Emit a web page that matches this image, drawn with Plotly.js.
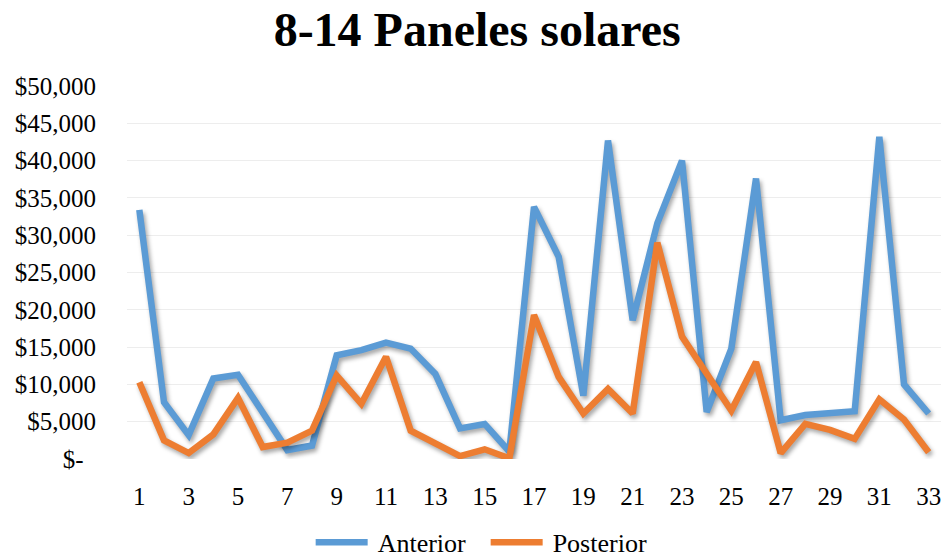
<!DOCTYPE html>
<html>
<head>
<meta charset="utf-8">
<script src="https://cdn.plot.ly/plotly-3.0.1.min.js"></script>
<style>
  html, body { margin: 0; padding: 0; background: #fff; }
  #chart { width: 943px; height: 559px; }
  .scatterlayer .trace path.js-line { filter: drop-shadow(2px 3px 2px rgba(0,0,0,0.35)); }
</style>
</head>
<body>
<div id="chart"></div>
<script>
const periods = [1,2,3,4,5,6,7,8,9,10,11,12,13,14,15,16,17,18,19,20,21,22,23,24,25,26,27,28,29,30,31,32,33];
const anterior = [33400, 7600, 3200, 10800, 11300, 6100, 1200, 1800, 13900, 14600, 15600, 14800, 11400, 4100, 4700, 1000, 33800, 27100, 8500, 42700, 18600, 31600, 40000, 6300, 14800, 37600, 5200, 5900, 6200, 6400, 43200, 10000, 6100];
const posterior = [10300, 2500, 800, 3300, 8200, 1600, 2200, 3800, 11200, 7400, 13700, 3800, 2100, 400, 1300, 100, 19300, 11000, 6100, 9400, 6100, 29000, 16400, 11400, 6500, 13000, 800, 4700, 3900, 2700, 8000, 5300, 900];
const seriesNames = ["Anterior", "Posterior"];
const yTickVals = [0, 5000, 10000, 15000, 20000, 25000, 30000, 35000, 40000, 45000, 50000];
const yTickText = ["$-\u00a0\u00a0", "$5,000", "$10,000", "$15,000", "$20,000", "$25,000", "$30,000", "$35,000", "$40,000", "$45,000", "$50,000"];
const xTickVals = [1,3,5,7,9,11,13,15,17,19,21,23,25,27,29,31,33];
const titleText = "8-14 Paneles solares";

const FONT = '"Liberation Serif", "Times New Roman", Times, serif';

const traces = [
  { x: periods, y: anterior, name: seriesNames[0], type: 'scatter', mode: 'lines',
    line: { color: '#5b9bd5', width: 6.5 } },
  { x: periods, y: posterior, name: seriesNames[1], type: 'scatter', mode: 'lines',
    line: { color: '#ed7d31', width: 6.5 } }
];

const layout = {
  width: 943, height: 559,
  margin: { l: 127, r: 2, t: 86, b: 100 },
  paper_bgcolor: '#ffffff', plot_bgcolor: '#ffffff',
  font: { family: FONT, size: 25, color: '#000000' },
  title: { text: '<b>' + titleText + '</b>', font: { family: FONT, size: 48, color: '#000000' },
           xref: 'container', x: 0.506, xanchor: 'center', yref: 'container', y: 0.948, yanchor: 'middle' },
  showlegend: true,
  legend: { orientation: 'h', xref: 'container', x: 0.3305, xanchor: 'left', yref: 'container', y: 0.03, yanchor: 'middle',
            font: { family: FONT, size: 26, color: '#000000' }, itemwidth: 56, entrywidth: 104, entrywidthmode: 'pixels',
            tracegroupgap: 0 },
  xaxis: { range: [0.5, 33.5], tickvals: xTickVals, showgrid: false, zeroline: false, showline: false,
           ticks: '', ticklabelstandoff: 20, tickfont: { family: FONT, size: 25 }, fixedrange: true },
  yaxis: { range: [0, 50000], tickvals: yTickVals, ticktext: yTickText, showgrid: true, gridcolor: '#ededed', gridwidth: 1,
           zeroline: false, showline: false, ticks: '', ticklabelstandoff: 30, tickfont: { family: FONT, size: 25 }, fixedrange: true }
};

Plotly.newPlot('chart', traces, layout, { displayModeBar: false, staticPlot: true }).then(function (gd) {
  // lengthen the legend line samples to resemble the original legend keys
  gd.querySelectorAll('.legend .legendlines path').forEach(function (p) {
    p.setAttribute('d', 'M4,0h52');
  });
});
</script>
</body>
</html>
